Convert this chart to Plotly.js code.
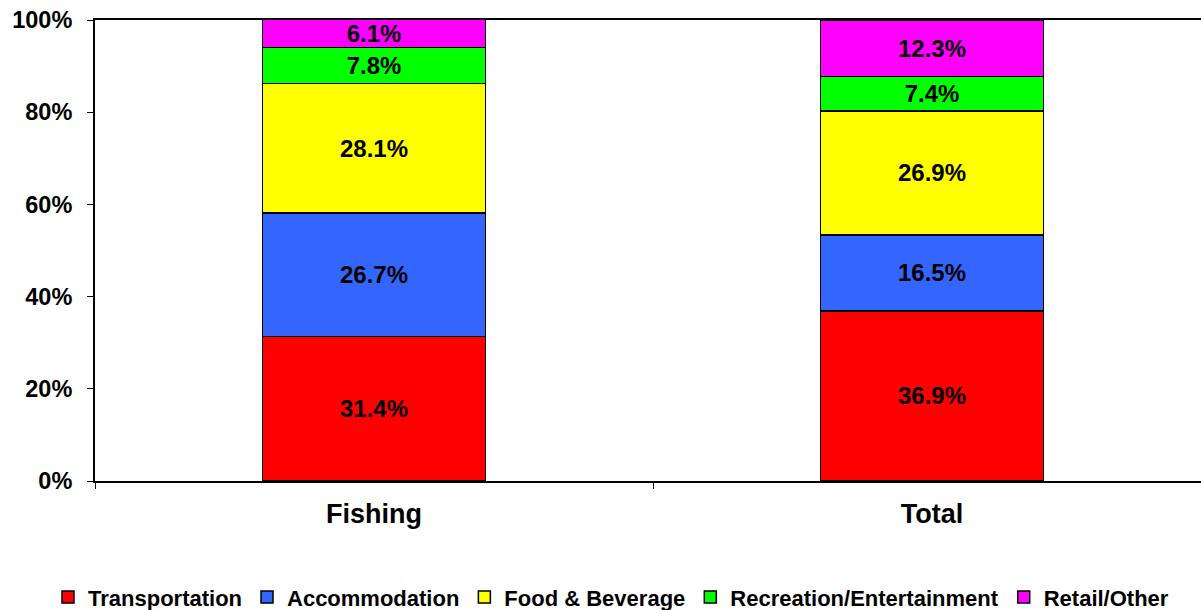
<!DOCTYPE html>
<html>
<head>
<meta charset="utf-8">
<script src="https://cdn.plot.ly/plotly-3.0.1.min.js"></script>
<style>html,body{margin:0;padding:0;background:#fff;}#chart{width:1201px;height:610px;}</style>
</head>
<body>
<div id="chart"></div>
<script>
const categories = ["Fishing", "Total"];
const seriesNames = ["Transportation", "Accommodation", "Food & Beverage", "Recreation/Entertainment", "Retail/Other"];
const transportation = [31.4, 36.9];
const accommodation = [26.7, 16.5];
const foodBeverage = [28.1, 26.9];
const recreation = [7.8, 7.4];
const retailOther = [6.1, 12.3];
const yTickValues = [0, 20, 40, 60, 80, 100];
const yTickLabels = ["0%", "20%", "40%", "60%", "80%", "100%"];

const seriesValues = [transportation, accommodation, foodBeverage, recreation, retailOther];
const colors = ["#FF0000", "#3366FF", "#FFFF00", "#00FF00", "#FF00FF"];
const FONT = '"Liberation Sans", Arial, sans-serif';

const traces = seriesNames.map((name, i) => ({
  type: "bar",
  name: name,
  x: categories,
  y: seriesValues[i],
  width: 0.4,
  marker: { color: colors[i], line: { color: "#000", width: 1.5 } },
  text: seriesValues[i].map(v => v.toFixed(1) + "%"),
  textposition: "inside",
  insidetextanchor: "middle",
  textangle: 0,
  constraintext: "none",
  textfont: { family: FONT, size: 24, color: "#000", weight: "bold" },
  hoverinfo: "skip"
}));

const layout = {
  width: 1201,
  height: 610,
  margin: { l: 95, r: 0, t: 20, b: 129, autoexpand: false },
  paper_bgcolor: "#fff",
  plot_bgcolor: "#fff",
  barmode: "stack",
  showlegend: true,
  uniformtext: { minsize: 24, mode: "show" },
  font: { family: FONT, color: "#000" },
  xaxis: {
    type: "category",
    range: [-0.5, 1.482],
    showline: true,
    linecolor: "#000",
    linewidth: 2,
    mirror: true,
    ticks: "outside",
    tickson: "boundaries",
    ticklen: 6,
    tickcolor: "#000",
    tickwidth: 1,
    showgrid: false,
    zeroline: false,
    tickfont: { family: FONT, size: 27, color: "#000", weight: "bold" },
    ticklabelstandoff: 8
  },
  yaxis: {
    range: [0, 100],
    tickvals: yTickValues,
    ticktext: yTickLabels,
    showline: true,
    linecolor: "#000",
    linewidth: 2,
    ticks: "outside",
    ticklen: 6,
    tickcolor: "#000",
    tickwidth: 1,
    showgrid: false,
    zeroline: false,
    tickfont: { family: FONT, size: 23.5, color: "#000", weight: "bold" },
    ticklabelstandoff: 10
  },
  legend: {
    orientation: "h",
    traceorder: "normal",
    x: -0.0425,
    xanchor: "left",
    y: -0.252,
    yanchor: "middle",
    font: { family: FONT, size: 22, color: "#000", weight: "bold" },
    itemwidth: 30,
    tracegroupgap: 0,
    bgcolor: "rgba(0,0,0,0)"
  }
};

Plotly.newPlot("chart", traces, layout, { displayModeBar: false, staticPlot: true });
</script>
</body>
</html>
